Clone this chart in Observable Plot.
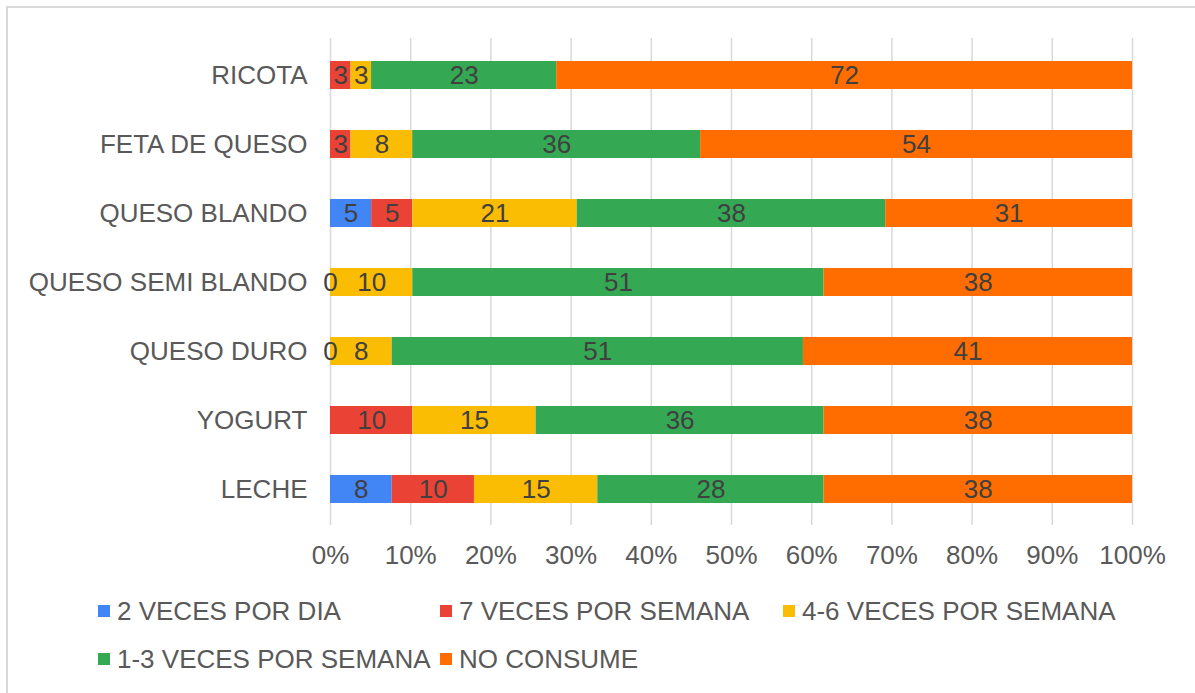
<!DOCTYPE html>
<html>
<head>
<meta charset="utf-8">
<script src="https://cdn.jsdelivr.net/npm/d3@7"></script>
<script src="https://cdn.jsdelivr.net/npm/@observablehq/plot@0.6"></script>
<style>
  html, body { margin: 0; padding: 0; background: #fff; }
  body { position: relative; width: 1195px; height: 693px; overflow: hidden; font-family: "Liberation Sans", Arial, sans-serif; }
  #frame { position: absolute; left: 6px; top: 6px; width: 1200px; height: 700px; border: 2px solid #d9d9d9; box-sizing: border-box; pointer-events: none; }
  #chart { position: absolute; left: 0; top: 0; }
  .leg { position: absolute; height: 30px; line-height: 30px; display: flex; align-items: center; font-size: 26px; color: #595959; white-space: nowrap; }
  .sw { width: 12px; height: 12px; margin-right: 7px; flex: none; }
</style>
</head>
<body>
<div id="chart"></div>
<div id="legend"></div>
<div id="frame"></div>
<script>
// ---- data (percent of respondents) ----
const categories = ["RICOTA", "FETA DE QUESO", "QUESO BLANDO", "QUESO SEMI BLANDO", "QUESO DURO", "YOGURT", "LECHE"];
const series = ["2 VECES POR DIA", "7 VECES POR SEMANA", "4-6 VECES POR SEMANA", "1-3 VECES POR SEMANA", "NO CONSUME"];
const colors = ["#4285F4", "#EA4335", "#FBBC04", "#34A853", "#FF6D01"];
const dosPorDia      = [null, null, 5.13, 0, 0, null, 7.69];
const sietePorSemana = [2.56, 2.56, 5.13, null, null, 10.26, 10.26];
const cuatroSeis     = [2.56, 7.69, 20.51, 10.26, 7.69, 15.38, 15.38];
const unoTres        = [23.08, 35.90, 38.46, 51.28, 51.28, 35.90, 28.21];
const noConsume      = [71.79, 53.85, 30.77, 38.46, 41.03, 38.46, 38.46];
const xTicks = [0, 0.1, 0.2, 0.3, 0.4, 0.5, 0.6, 0.7, 0.8, 0.9, 1];

const seriesValues = [dosPorDia, sietePorSemana, cuatroSeis, unoTres, noConsume];
const rows = [];
series.forEach((s, si) => {
  categories.forEach((c, ci) => {
    const v = seriesValues[si][ci];
    if (v !== null) rows.push({cat: c, series: s, value: v});
  });
});

const stackOpts = {x: "value", y: "cat", z: "series", order: series, offset: "normalize"};

const chart = Plot.plot({
  width: 1195,
  height: 580,
  marginTop: 38,
  marginBottom: 55,
  marginLeft: 330,
  marginRight: 63,
  style: {fontFamily: "'Liberation Sans', Arial, sans-serif", background: "transparent"},
  x: {domain: [0, 1], axis: null},
  y: {domain: categories, axis: null, paddingInner: 0.6, paddingOuter: 0.3},
  color: {domain: series, range: colors},
  marks: [
    Plot.gridX(xTicks, {stroke: "#d9d9d9", strokeOpacity: 1, strokeWidth: 1.5}),
    Plot.barX(rows, Plot.stackX({...stackOpts, fill: "series"})),
    Plot.text(rows, Plot.stackX({...stackOpts, text: d => String(Math.round(d.value)), fill: "#404040", fontSize: 26})),
    Plot.axisX(xTicks, {tickFormat: d3.format(".0%"), tickSize: 0, tickPadding: 20, fontSize: 26, fill: "#595959", label: null}),
    Plot.axisY({tickSize: 0, tickPadding: 23, fontSize: 26, fill: "#595959", label: null})
  ]
});
document.getElementById("chart").appendChild(chart);

// ---- legend ----
const legendPos = [[98, 611], [440, 611], [783, 611], [98, 659], [440, 659]];
const legend = document.getElementById("legend");
series.forEach((s, i) => {
  const item = document.createElement("div");
  item.className = "leg";
  item.style.left = legendPos[i][0] + "px";
  item.style.top = (legendPos[i][1] - 15) + "px";
  const sw = document.createElement("span");
  sw.className = "sw";
  sw.style.background = colors[i];
  const t = document.createElement("span");
  t.textContent = s;
  item.appendChild(sw);
  item.appendChild(t);
  legend.appendChild(item);
});
</script>
</body>
</html>
